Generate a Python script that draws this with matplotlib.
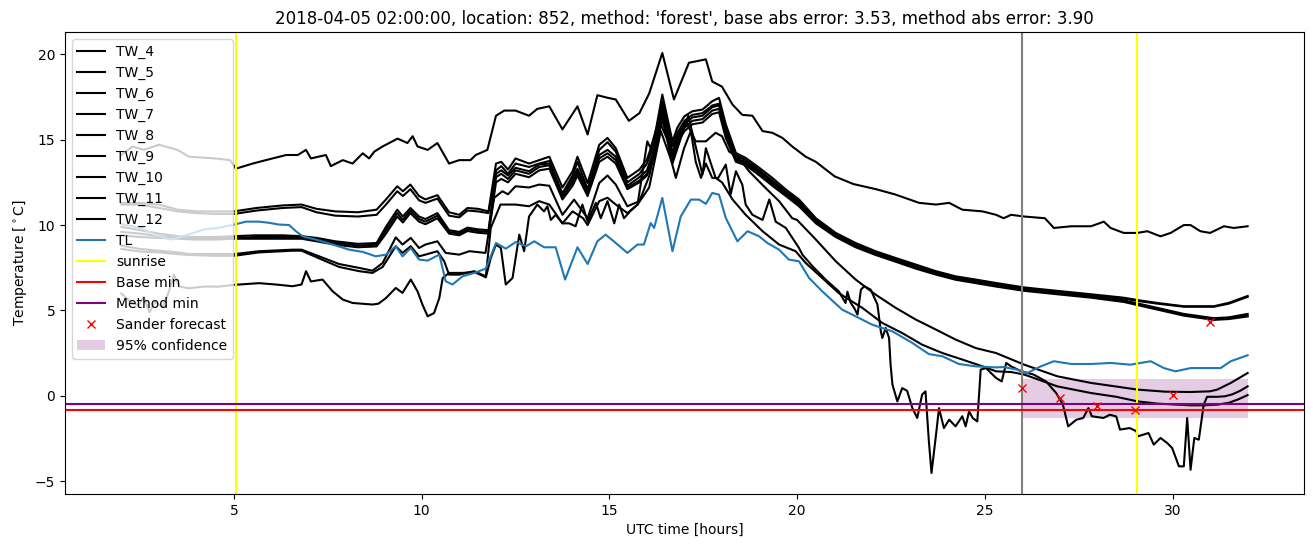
import matplotlib
matplotlib.use("Agg")
import matplotlib.pyplot as plt

# top water temperature line
t_a = [2.0, 2.3, 2.6, 3.0, 3.5, 3.8, 4.5, 4.9, 5.05, 5.5, 5.85, 6.39, 6.7, 6.92, 7.05, 7.45, 7.58, 7.9, 8.16, 8.43,
       8.6, 8.74, 8.96, 9.36, 9.62, 9.76, 9.89, 10.16, 10.42, 10.73, 11.0, 11.3, 11.44, 11.75, 11.98, 12.2, 12.5, 12.86,
       13.08, 13.4, 13.75, 14.15, 14.42, 14.68, 14.95, 15.17, 15.52, 15.8, 16.06, 16.41, 16.72, 17.12, 17.35, 17.57,
       17.74, 18.0, 18.28, 18.54, 18.81, 19.08, 19.34, 19.61, 19.87, 20.23, 20.5, 21.0, 21.5, 22.1, 22.6, 23.25, 23.7,
       24.05, 24.4, 24.94, 25.3, 25.5, 25.7, 26.05, 26.6, 26.84, 27.3, 27.83, 28.17, 28.35, 28.7, 29.06, 29.33, 29.68,
       29.95, 30.3, 30.48, 30.74, 31.0, 31.37, 31.63, 32.0]
y_a = [14.1, 14.6, 14.4, 14.7, 14.4, 14.0, 13.9, 13.8, 13.3, 13.6, 13.8, 14.1, 14.1, 14.4, 13.9, 14.1, 13.45, 13.8, 13.6,
       14.2, 13.9, 14.3, 14.6, 15.06, 14.8, 15.2, 14.6, 14.4, 14.8, 13.6, 13.8, 13.8, 14.1, 14.4, 16.4, 16.7, 16.7, 16.4,
       16.8, 16.95, 15.6, 16.95, 15.3, 17.6, 17.45, 17.35, 16.1, 16.55, 17.7, 20.07, 17.35, 19.5, 19.6, 19.7, 18.4, 18.1,
       17.05, 16.45, 16.4, 15.5, 15.4, 15.1, 14.6, 14.0, 13.7, 12.85, 12.4, 12.1, 11.8, 11.3, 11.2, 11.3, 10.9, 10.8,
       10.6, 10.4, 10.6, 10.5, 10.4, 9.83, 9.93, 9.93, 10.2, 9.83, 9.54, 9.54, 9.64, 9.34, 9.54, 10.0, 10.0, 9.64, 9.54,
       9.93, 9.83, 9.93]

# bundle of five close lines
t_b = [2.0, 2.5, 3.0, 3.5, 4.0, 4.5, 5.0, 5.6, 6.3, 6.8, 7.2, 7.7, 8.3, 8.8, 9.05, 9.35, 9.5, 9.7, 9.93, 10.1,
       10.42, 10.73, 11.0, 11.22, 11.5, 11.78, 11.98, 12.12, 12.3, 12.5, 12.86, 13.13, 13.4, 13.75, 14.02, 14.15, 14.42,
       14.73, 14.95, 15.17, 15.48, 15.8, 16.0, 16.2, 16.41, 16.68, 16.81, 17.0, 17.21, 17.48, 17.74, 17.92, 18.1, 18.37,
       18.63, 19.0, 19.34, 19.7, 20.05, 20.5, 21.03, 21.56, 22.09, 22.63, 23.16, 23.7, 24.22, 24.76, 25.3, 26.05, 26.93,
       27.83, 28.7, 29.1, 29.6, 30.3, 31.1, 31.5, 32.0]
y_b1 = [11.3, 11.3, 11.2, 10.9, 10.8, 10.8, 10.8, 11.0, 11.15, 11.2, 10.95, 10.8, 10.75, 10.9, 11.5, 12.27, 11.98, 12.37,
        11.7, 11.5, 11.75, 10.75, 10.6, 11.0, 10.95, 10.8, 13.6, 13.7, 13.25, 13.9, 13.6, 13.8, 14.0, 12.2, 13.15, 14.0,
        12.46, 14.7, 15.1, 14.5, 12.76, 13.25, 13.84, 15.1, 17.64, 14.9, 15.7, 16.37, 16.66, 16.76, 17.25, 17.44, 15.9,
        14.22, 13.93, 13.34, 12.76, 12.08, 11.5, 10.4, 9.54, 8.95, 8.47, 8.07, 7.69, 7.3, 7.0, 6.81, 6.61, 6.35, 6.15,
        5.95, 5.75, 5.6, 5.44, 5.25, 5.25, 5.45, 5.85]
y_b2 = [11.2, 11.2, 11.0, 10.8, 10.7, 10.65, 10.65, 10.85, 11.0, 11.05, 10.75, 10.55, 10.5, 10.6, 11.2, 11.98, 11.7,
        12.1, 11.45, 11.3, 11.55, 10.55, 10.45, 10.85, 10.8, 10.7, 13.2, 13.45, 13.0, 13.6, 13.4, 13.6, 13.75, 11.85,
        12.9, 13.7, 12.1, 14.4, 14.85, 14.3, 12.5, 13.0, 13.6, 14.8, 17.2, 14.6, 15.4, 16.1, 16.45, 16.55, 17.0, 17.1,
        15.7, 14.1, 13.8, 13.2, 12.6, 11.95, 11.4, 10.3, 9.45, 8.85, 8.4, 8.0, 7.6, 7.25, 6.95, 6.75, 6.55, 6.3, 6.1,
        5.9, 5.7, 5.55, 5.4, 5.22, 5.22, 5.4, 5.8]
y_c1 = [9.9, 9.7, 9.5, 9.35, 9.3, 9.3, 9.35, 9.4, 9.4, 9.35, 9.25, 9.05, 8.9, 8.95, 9.9, 10.9, 10.5, 11.0, 10.5, 10.35,
        10.7, 9.7, 9.6, 9.85, 9.75, 9.7, 13.0, 13.2, 12.9, 13.35, 13.15, 13.55, 13.6, 11.8, 12.7, 13.3, 12.0, 14.1, 14.4,
        14.0, 12.3, 12.8, 13.2, 14.5, 16.9, 14.2, 15.2, 15.9, 16.3, 16.4, 16.9, 17.0, 15.5, 13.9, 13.7, 13.1, 12.5,
        11.85, 11.3, 10.25, 9.4, 8.8, 8.35, 7.95, 7.55, 7.2, 6.9, 6.7, 6.5, 6.25, 6.05, 5.85, 5.6, 5.4, 5.15, 4.8, 4.55,
        4.6, 4.8]
y_c2 = [9.6, 9.5, 9.35, 9.25, 9.2, 9.2, 9.25, 9.3, 9.3, 9.3, 9.15, 8.95, 8.8, 8.85, 9.7, 10.7, 10.3, 10.85, 10.35, 10.2,
        10.55, 9.6, 9.5, 9.75, 9.65, 9.6, 12.8, 13.0, 12.7, 13.2, 13.0, 13.4, 13.5, 11.65, 12.5, 13.1, 11.9, 13.9, 14.2,
        13.8, 12.2, 12.6, 13.0, 14.2, 16.5, 13.9, 15.0, 15.7, 16.1, 16.2, 16.7, 16.8, 15.3, 13.8, 13.6, 13.0, 12.4, 11.8,
        11.2, 10.2, 9.35, 8.75, 8.3, 7.9, 7.5, 7.15, 6.85, 6.65, 6.45, 6.2, 6.0, 5.8, 5.55, 5.35, 5.1, 4.75, 4.5, 4.55,
        4.7]
y_c3 = [9.4, 9.3, 9.25, 9.2, 9.15, 9.15, 9.2, 9.2, 9.2, 9.2, 9.05, 8.85, 8.7, 8.75, 9.5, 10.5, 10.15, 10.7, 10.2, 10.05,
        10.4, 9.5, 9.4, 9.65, 9.55, 9.5, 12.5, 12.7, 12.5, 13.0, 12.8, 13.2, 13.3, 11.5, 12.3, 12.9, 11.7, 13.7, 14.0,
        13.6, 12.1, 12.5, 12.9, 14.0, 16.2, 13.7, 14.8, 15.5, 15.9, 16.0, 16.5, 16.6, 15.1, 13.7, 13.5, 12.9, 12.3, 11.7,
        11.1, 10.1, 9.3, 8.7, 8.25, 7.85, 7.45, 7.1, 6.8, 6.6, 6.4, 6.15, 5.95, 5.75, 5.5, 5.3, 5.05, 4.7, 4.45, 4.5,
        4.65]

t_d1 = [2.0, 2.5, 3.0, 3.5, 3.8, 4.5, 5.0, 5.67, 6.56, 6.8, 7.27, 7.8, 8.34, 8.69, 8.96, 9.31, 9.49, 9.71, 9.93, 10.1,
        10.42, 10.64, 11.0, 11.27, 11.7, 11.93, 12.15, 12.3, 12.5, 12.86, 13.13, 13.4, 13.75, 14.06, 14.42, 14.73,
        14.95, 15.17, 15.48, 15.8, 16.06, 16.37, 16.68, 17.03, 17.3, 17.57, 17.83, 18.0, 18.19, 18.45, 18.72, 19.16,
        19.52, 19.87, 20.0, 20.5, 21.03, 21.56, 22.09, 22.63, 23.16, 23.7, 24.22, 24.76, 25.3, 26.05, 26.93, 27.83,
        28.5, 29.07, 29.8, 30.48, 31.0, 31.19, 31.55, 32.0]
y_d1 = [8.8, 8.6, 8.5, 8.4, 8.3, 8.3, 8.3, 8.47, 8.56, 8.56, 8.17, 7.72, 7.49, 7.33, 7.78, 9.28, 8.86, 9.25, 8.66, 8.86,
        9.05, 8.37, 8.27, 8.47, 8.37, 11.59, 11.98, 11.8, 12.27, 12.2, 12.37, 12.3, 10.6, 11.49, 10.4, 12.46, 12.9,
        12.37, 11.1, 11.4, 12.86, 15.9, 14.3, 16.1, 14.9, 14.9, 15.4, 15.2, 14.3, 13.93, 13.15, 12.17, 11.4, 10.4, 10.3,
        9.15, 7.88, 6.81, 5.93, 5.15, 4.47, 3.88, 3.3, 2.8, 2.51, 1.83, 1.15, 0.76, 0.55, 0.37, 0.25, 0.23, 0.27, 0.37,
        0.76, 1.34]

t_d2 = [2.0, 2.5, 3.0, 3.5, 3.8, 4.5, 5.0, 5.67, 6.56, 6.8, 7.27, 7.8, 8.34, 8.69, 8.96, 9.31, 9.49, 9.71, 9.93, 10.1,
        10.42, 10.6, 10.73, 11.0, 11.4, 11.71, 11.84, 12.1, 12.5, 12.86, 13.13, 13.4, 13.75, 14.02, 14.3, 14.42, 14.73,
        14.95, 15.17, 15.48, 15.75, 16.06, 16.37, 16.68, 17.1, 17.48, 17.57, 17.83, 18.0, 18.28, 18.63, 19.08, 19.52,
        19.96, 20.23, 20.67, 21.11, 21.38, 21.74, 22.27, 22.8, 23.33, 23.87, 24.4, 24.94, 25.3, 25.7, 26.05, 26.5,
        26.93, 27.83, 28.5, 29.07, 29.6, 30.13, 30.48, 30.83, 31.2, 31.5, 31.75, 32.0]
y_d2 = [8.6, 8.45, 8.4, 8.3, 8.25, 8.2, 8.2, 8.4, 8.5, 8.5, 8.05, 7.55, 7.3, 7.2, 7.55, 8.76, 8.37, 8.76, 8.17, 8.27,
        8.47, 7.88, 7.1, 7.1, 7.3, 7.0, 9.83, 11.2, 11.2, 11.1, 11.4, 11.2, 10.1, 10.8, 10.4, 10.0, 11.4, 11.6, 11.2,
        10.7, 11.2, 12.2, 15.5, 13.6, 16.4, 12.96, 14.5, 12.76, 12.5, 11.5, 10.6, 9.64, 8.86, 8.47, 7.78, 6.9, 6.02,
        5.64, 5.15, 4.27, 3.68, 3.0, 2.51, 2.13, 1.73, 1.44, 1.4, 1.25, 0.9, 0.56, 0.17, -0.05, -0.32, -0.45, -0.51,
        -0.55, -0.55, -0.51, -0.4, -0.2, 0.05]

t_e = [2.0, 2.25, 2.45, 2.6, 2.75, 2.9, 3.1, 3.25, 3.4, 3.55, 3.8, 4.2, 4.6, 5.0, 5.67, 6.12, 6.56, 6.8, 6.92, 7.05,
       7.36, 7.63, 7.9, 8.16, 8.69, 8.85, 9.05, 9.31, 9.49, 9.71, 9.89, 10.02, 10.16, 10.33, 10.47, 10.56, 10.73, 11.09,
       11.4, 11.71, 11.84, 11.98, 12.11, 12.24, 12.42, 12.6, 12.73, 12.86, 13.08, 13.26, 13.35, 13.44, 13.57, 13.75,
       13.93, 14.1, 14.28, 14.42, 14.64, 14.77, 14.95, 15.13, 15.26, 15.39, 15.55, 15.75, 16.01, 16.1, 16.41, 16.63,
       16.77, 16.99, 17.17, 17.3, 17.44, 17.57, 17.74, 17.9, 18.1, 18.23, 18.37, 18.54, 18.63, 18.81, 19.08, 19.26,
       19.43, 19.7, 20.05, 20.14, 20.41, 20.76, 21.11, 21.29, 21.34, 21.43, 21.52, 21.61, 21.7, 21.79, 21.96, 22.14,
       22.23, 22.27, 22.36, 22.45, 22.49, 22.54, 22.67, 22.8, 22.93, 23.07, 23.2, 23.33, 23.42, 23.51, 23.58, 23.7,
       23.78, 23.91, 24.05, 24.22, 24.4, 24.49, 24.58, 24.68, 24.8, 24.89, 25.03, 25.3, 25.45, 25.57, 25.7, 25.97,
       26.3, 26.63, 26.9, 27.08, 27.22, 27.44, 27.62, 27.76, 27.85, 28.16, 28.33, 28.5, 28.6, 28.86, 29.04, 29.07,
       29.36, 29.5, 29.68, 29.86, 29.99, 30.17, 30.3, 30.39, 30.48, 30.58, 30.7, 30.83, 30.92, 31.2, 31.4, 31.6, 31.8,
       32.0]
y_e = [6.0, 5.5, 5.3, 5.8, 4.9, 5.5, 5.2, 6.0, 7.1, 6.4, 6.3, 6.4, 6.4, 6.5, 6.6, 6.52, 6.42, 6.52, 7.3, 6.7, 6.81,
       6.12, 5.64, 5.44, 5.35, 5.4, 5.73, 6.32, 6.03, 6.81, 6.12, 5.35, 4.66, 4.85, 5.73, 6.9, 7.2, 7.2, 7.26, 6.94,
       8.07, 8.86, 8.66, 6.52, 6.9, 9.44, 8.47, 10.5, 11.2, 10.8, 11.1, 10.3, 10.6, 10.1, 10.1, 9.93, 11.2, 10.2, 11.3,
       10.4, 11.4, 10.1, 11.2, 10.4, 10.8, 11.2, 14.9, 14.5, 16.86, 13.93, 12.76, 14.5, 15.5, 13.7, 12.76, 13.6, 12.76,
       12.76, 13.54, 11.8, 13.15, 12.37, 11.2, 10.6, 10.3, 11.5, 10.2, 9.83, 8.66, 8.27, 7.59, 6.81, 6.12, 5.44, 6.1,
       5.44, 5.15, 4.76, 6.22, 6.42, 6.22, 5.35, 3.78, 3.39, 3.98, 3.39, 1.83, 0.66, -0.32, 0.46, 0.3, -0.71, -1.29,
       0.08, 0.27, -2.66, -4.51, -2.27, -0.71, -1.88, -1.39, -1.78, -1.19, -1.78, -0.9, -1.3, -1.49, 1.54, 1.63, 1.05,
       0.85, 1.93, 1.73, 1.44, 1.25, 0.85, 0.17, -0.51, -1.78, -1.39, -1.29, -0.71, -1.19, -1.29, -1.1, -1.2, -1.97,
       -1.88, -2.07, -2.37, -2.17, -2.85, -2.46, -2.76, -3.05, -4.12, -4.12, -1.29, -4.32, -2.46, -2.56, -0.51, -0.05,
       -0.05, -0.02, 0.1, 0.3, 0.56]

# air temperature
t_tl = [2.0, 2.53, 2.88, 3.32, 3.77, 4.2, 4.57, 5.01, 5.32, 5.67, 5.94, 6.2, 6.47, 6.65, 6.83, 7.18, 7.63, 8.07, 8.43,
        8.78, 9.05, 9.31, 9.49, 9.71, 9.93, 10.16, 10.47, 10.64, 10.82, 11.09, 11.4, 11.71, 11.98, 12.24, 12.51, 12.78,
        13.0, 13.26, 13.57, 13.82, 14.15, 14.42, 14.68, 14.9, 15.17, 15.48, 15.75, 15.92, 16.1, 16.19, 16.41, 16.68,
        16.9, 17.17, 17.39, 17.57, 17.74, 17.92, 18.1, 18.41, 18.68, 18.99, 19.21, 19.52, 19.78, 20.05, 20.32, 20.67,
        21.2, 21.56, 22.0, 22.54, 23.07, 23.51, 23.87, 24.31, 24.76, 25.3, 25.5, 25.86, 26.13, 26.49, 26.84, 27.3,
        27.83, 28.35, 28.88, 29.42, 29.77, 30.08, 30.48, 30.92, 31.28, 31.55, 32.0]
y_tl = [10.06, 9.83, 9.44, 9.15, 9.44, 9.74, 9.83, 10.03, 10.2, 10.2, 10.13, 10.03, 10.0, 9.64, 9.34, 9.15, 8.86, 8.56,
        8.43, 8.17, 8.27, 8.76, 8.17, 8.66, 7.98, 7.92, 8.27, 6.71, 6.52, 7.0, 7.2, 7.45, 8.95, 8.62, 9.01, 8.76, 9.05,
        8.7, 8.7, 6.81, 8.7, 7.72, 9.05, 9.44, 8.95, 8.37, 8.86, 8.86, 10.12, 9.83, 11.59, 8.47, 10.5, 11.49, 11.49,
        11.24, 11.88, 11.78, 10.42, 9.05, 9.64, 9.34, 8.95, 8.56, 7.98, 7.88, 6.9, 6.12, 5.05, 4.66, 4.17, 3.78, 3.1,
        2.45, 2.32, 1.87, 1.73, 1.67, 1.69, 1.54, 1.34, 1.73, 2.03, 1.87, 1.87, 1.93, 1.83, 2.03, 1.63, 1.44, 1.63,
        1.63, 1.63, 2.03, 2.38]

sunrise = [5.05, 29.05]
now_hour = 26.0
base_min = -0.81
method_min = -0.49
sander_x = [26, 27, 28, 29, 30, 31]
sander_y = [0.48, -0.12, -0.56, -0.85, 0.07, 4.35]
conf_x = [26, 32]
conf_low = [-1.29, -1.29]
conf_high = [0.99, 0.99]

tw_lines = [("TW_4", t_e, y_e), ("TW_5", t_d2, y_d2), ("TW_6", t_d1, y_d1), ("TW_7", t_b, y_c3),
            ("TW_8", t_b, y_c2), ("TW_9", t_b, y_c1), ("TW_10", t_b, y_b2), ("TW_11", t_b, y_b1),
            ("TW_12", t_a, y_a)]

fig = plt.figure(figsize=(13.13, 5.47), dpi=100)
ax = fig.add_axes([0.0495, 0.0969, 0.9436, 0.8446])
for name, t, y in tw_lines:
    ax.plot(t, y, color="black", label=name)
ax.plot(t_tl, y_tl, color="tab:blue", label="TL")
ax.axvline(sunrise[0], color="yellow", label="sunrise")
ax.axvline(sunrise[1], color="yellow")
ax.axvline(now_hour, color="grey")
ax.axhline(base_min, color="red", label="Base min")
ax.axhline(method_min, color="purple", label="Method min")
ax.plot(sander_x, sander_y, "rx", label="Sander forecast")
ax.fill_between(conf_x, conf_low, conf_high, color="purple", alpha=0.2, linewidth=0, label="95% confidence")
ax.set_xlabel("UTC time [hours]")
ax.set_ylabel(r"Temperature [$^\circ$C]")
ax.set_title("2018-04-05 02:00:00, location: 852, method: 'forest', base abs error: 3.53, method abs error: 3.90")
ax.legend(loc="upper left")
fig.savefig("out.png", dpi=100)
